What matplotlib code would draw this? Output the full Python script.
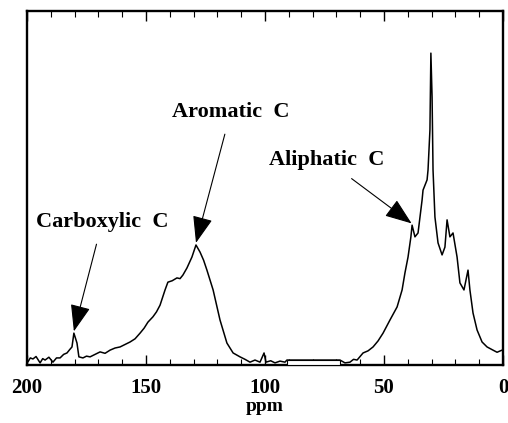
import matplotlib
matplotlib.use("Agg")
import matplotlib.pyplot as plt
from matplotlib.patches import Rectangle
from matplotlib.ticker import MultipleLocator

# Chemical shift (ppm) and relative intensity
ppm = [200.0, 199.6, 198.6, 197.5, 196.2, 194.5, 193.4, 192.4, 190.8, 189.1, 187.6,
       186.1, 184.6, 183.2, 182.0, 181.1, 180.3, 179.6, 179.0, 178.2, 176.5, 175.0,
       173.5, 171.4, 169.3, 167.2, 165.1, 163.0, 160.9, 158.8, 156.7, 154.6, 152.5,
       150.8, 149.2, 147.1, 145.6, 144.1, 142.0, 140.8, 139.0, 137.0, 135.7, 134.5,
       132.8, 130.7, 129.0, 127.3, 125.8, 124.4, 121.8, 118.9, 116.0, 113.4, 110.5,
       108.4, 106.3, 104.2, 102.1, 100.4, 99.6, 97.6, 95.8, 93.7, 91.6, 90.8,
       68.5, 66.4, 64.3, 62.8, 61.3, 58.8, 56.7, 54.6, 52.5, 50.4, 47.5,
       44.5, 42.4, 41.2, 39.9, 38.7, 38.2, 37.0, 35.7, 34.0, 33.6, 31.9,
       31.5, 30.7, 30.3, 29.8, 29.4, 28.6, 27.3, 25.6, 24.4, 23.5, 22.3,
       21.0, 19.3, 18.1, 16.4, 14.7, 13.9, 12.6, 10.9, 8.8, 6.7, 4.2,
       2.5, 0.4, 0.0]
intensity = [0.010, 0.009, 0.020, 0.017, 0.024, 0.006, 0.018, 0.014, 0.022, 0.008, 0.020,
             0.020, 0.030, 0.034, 0.044, 0.051, 0.090, 0.075, 0.062, 0.023, 0.020, 0.025,
             0.023, 0.030, 0.037, 0.033, 0.042, 0.048, 0.051, 0.058, 0.065, 0.074, 0.090,
             0.104, 0.121, 0.136, 0.150, 0.169, 0.212, 0.234, 0.238, 0.246, 0.244, 0.254,
             0.274, 0.305, 0.339, 0.319, 0.296, 0.268, 0.212, 0.127, 0.062, 0.034, 0.023,
             0.016, 0.008, 0.014, 0.008, 0.034, 0.008, 0.012, 0.006, 0.011, 0.008, 0.014,
             0.014, 0.006, 0.008, 0.016, 0.014, 0.034, 0.040, 0.051, 0.068, 0.090, 0.127,
             0.164, 0.212, 0.260, 0.305, 0.362, 0.395, 0.362, 0.373, 0.466, 0.494, 0.523,
             0.551, 0.664, 0.881, 0.757, 0.551, 0.418, 0.345, 0.311, 0.333, 0.410, 0.362,
             0.373, 0.305, 0.232, 0.212, 0.268, 0.212, 0.147, 0.099, 0.065, 0.051, 0.042,
             0.036, 0.042, 0.040]

# Blanked region box on the baseline (ppm range, height)
box_ppm = [90.8, 68.5]
box_height = 0.014

annotations = [
    ("Carboxylic  C", (180.3, 0.095), (36, 222)),
    ("Aromatic  C", (129.0, 0.345), (172, 112)),
    ("Aliphatic  C", (38.4, 0.400), (269, 160)),
]
xticks = [200, 150, 100, 50, 0]

W, H = 508, 423
fig = plt.figure(figsize=(W / 100, H / 100), dpi=100)
ax = fig.add_axes([27 / W, 1 - 365 / H, 476 / W, 354 / H])

ax.plot(ppm, intensity, color="black", lw=1.1)
ax.add_patch(Rectangle((box_ppm[1], 0), box_ppm[0] - box_ppm[1], box_height,
                       facecolor="white", edgecolor="black", lw=0.8, zorder=3))

ax.set_xlim(200, 0)
ax.set_ylim(0, 1)

font = dict(family="Liberation Serif", weight="bold")

ax.xaxis.set_minor_locator(MultipleLocator(10))
ax.set_xticks(xticks)
ax.set_xticklabels([str(t) for t in xticks], fontsize=15, **font)
ax.tick_params(axis="x", which="both", direction="in", top=True, bottom=True, pad=9)
ax.tick_params(axis="x", which="major", length=7, width=1.0)
ax.tick_params(axis="x", which="minor", length=4, width=0.8)
ax.set_yticks([])
for s in ax.spines.values():
    s.set_linewidth(1.7)

fig.text(265 / W, 1 - 406 / H, "ppm", ha="center", va="center", fontsize=14, **font)

for label, xy, (tx, ty) in annotations:
    ax.annotate(label, xy=xy, xycoords="data",
                xytext=(tx / W, 1 - ty / H), textcoords="figure fraction",
                ha="left", va="center", fontsize=16, **font,
                arrowprops=dict(arrowstyle="-|>,head_length=1.2,head_width=0.45",
                                mutation_scale=14, color="black", lw=0.8,
                                shrinkA=7, shrinkB=0))

fig.savefig("out.png", dpi=100)
